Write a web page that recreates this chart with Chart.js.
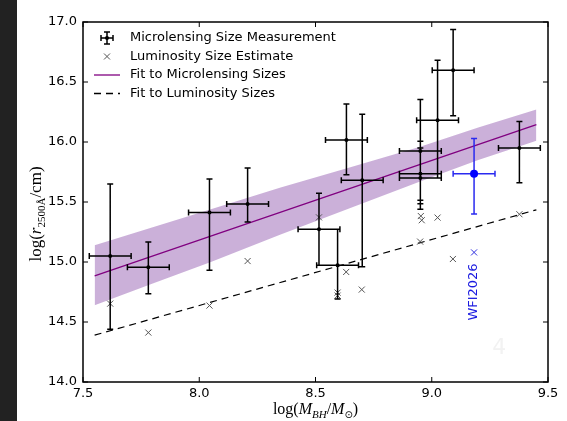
<!DOCTYPE html>
<html lang="en">
<head>
<meta charset="UTF-8">
<title>Quasar size vs black hole mass</title>
<script src="https://cdn.jsdelivr.net/npm/chart.js"></script>
<style>
  html, body { margin: 0; padding: 0; background: #fff; }
  #wrap { position: relative; width: 567px; height: 421px; overflow: hidden; }
  #strip { position: absolute; left: 0; top: 0; width: 17px; height: 421px; background: #222; }
  #chartBox { position: absolute; left: 0; top: 0; width: 567px; height: 421px; }
</style>
</head>
<body>
<div id="wrap">
  <div id="strip"></div>
  <div id="chartBox"><canvas id="sizeChart"></canvas></div>
</div>
<script>
// microlensing size measurements (log M_BH, log r, errors)
const lensMass    = [7.617, 7.781, 8.044, 8.208, 8.515, 8.595, 8.633, 8.701, 8.951, 8.951, 8.951, 9.025, 9.092, 9.377];
const lensSize    = [15.05, 14.956, 15.412, 15.483, 15.272, 14.972, 16.017, 15.681, 15.925, 15.736, 15.70, 16.181, 16.598, 15.951];
const lensErrUp   = [0.60, 0.21, 0.28, 0.30, 0.30, 0.30, 0.30, 0.55, 0.43, 0.27, 0.25, 0.50, 0.34, 0.22];
const lensErrDown = [0.61, 0.22, 0.48, 0.15, 0.30, 0.28, 0.29, 0.72, 0.41, 0.25, 0.26, 0.48, 0.38, 0.29];
const lensMassErr = [0.09, 0.09, 0.09, 0.09, 0.09, 0.09, 0.09, 0.09, 0.09, 0.09, 0.09, 0.09, 0.09, 0.09];

// WFI2026 measurement, shown in blue
const wfiMass = [9.182];
const wfiSize = [15.736];
const wfiErrUp = [0.294];
const wfiErrDown = [0.336];
const wfiMassErr = [0.09];
const wfiLumSize = [15.08];

// luminosity based size estimates
const lumMass = [7.617, 7.781, 8.044, 8.208, 8.515, 8.595, 8.595, 8.632, 8.699, 8.953, 8.957, 8.950, 9.025, 9.091, 9.377];
const lumSize = [14.653, 14.412, 14.637, 15.008, 15.372, 14.745, 14.72, 14.917, 14.77, 15.383, 15.348, 15.17, 15.37, 15.025, 15.398];

// fitted relations
const fitMass = [7.55, 9.45];
const fitMicro = [14.885, 16.145];
const fitLum = [14.39, 15.435];

// confidence band around the microlensing fit
const bandMass  = [7.55, 7.80, 8.05, 8.35, 8.65, 8.95, 9.20, 9.45];
const bandUpper = [15.14, 15.29, 15.44, 15.62, 15.79, 15.96, 16.12, 16.27];
const bandLower = [14.64, 14.82, 15.00, 15.23, 15.45, 15.67, 15.85, 16.01];

const xTicks = [7.5, 8.0, 8.5, 9.0, 9.5];
const yTicks = [14.0, 14.5, 15.0, 15.5, 16.0, 16.5, 17.0];

const legendLabels = ['Microlensing Size Measurement', 'Luminosity Size Estimate', 'Fit to Microlensing Sizes', 'Fit to Luminosity Sizes'];
const wfiLabel = { text: 'WFI2026', x: 9.18, y: 14.75 };
const cornerMark = { text: '4', x: 9.29, y: 14.28 };

const pts = (xs, ys) => xs.map((v, i) => ({ x: v, y: ys[i] }));

const SANS = "'DejaVu Sans', sans-serif";
const SERIF = "'Liberation Serif', 'DejaVu Serif', serif";
Chart.defaults.font.family = SANS;
Chart.defaults.color = '#000';

function line(ctx, x0, y0, x1, y1) {
  ctx.moveTo(x0, y0);
  ctx.lineTo(x1, y1);
}

// error bars drawn just under each dataset that carries them
const errorBars = {
  id: 'errorBars',
  beforeDatasetDraw(chart, args) {
    const ds = chart.data.datasets[args.index];
    if (!ds.errorBars) return;
    const { ctx, scales: { x, y } } = chart;
    const e = ds.errorBars;
    const cap = 3;
    ctx.save();
    ctx.strokeStyle = ds.barColor;
    ctx.lineWidth = 1.5;
    ctx.beginPath();
    ds.data.forEach((p, i) => {
      const px = x.getPixelForValue(p.x), py = y.getPixelForValue(p.y);
      const xl = x.getPixelForValue(p.x - e.xErr[i]), xr = x.getPixelForValue(p.x + e.xErr[i]);
      const yt = y.getPixelForValue(p.y + e.up[i]), yb = y.getPixelForValue(p.y - e.down[i]);
      line(ctx, xl, py, xr, py);
      line(ctx, px, yt, px, yb);
      line(ctx, xl, py - cap, xl, py + cap);
      line(ctx, xr, py - cap, xr, py + cap);
      line(ctx, px - cap, yt, px + cap, yt);
      line(ctx, px - cap, yb, px + cap, yb);
    });
    ctx.stroke();
    ctx.restore();
  }
};

// draws mixed roman/italic/subscript runs as one label, centred on (cx, baseline)
function drawRuns(ctx, runs, cx, baseline) {
  let total = 0;
  runs.forEach(r => { ctx.font = r.font; total += ctx.measureText(r.t).width; });
  let xp = cx - total / 2;
  ctx.textAlign = 'left';
  ctx.textBaseline = 'alphabetic';
  runs.forEach(r => {
    ctx.font = r.font;
    ctx.fillText(r.t, xp, baseline + (r.dy || 0));
    xp += ctx.measureText(r.t).width;
  });
}

// box frame, inward ticks, legend, axis titles and annotations
const decorations = {
  id: 'decorations',
  afterDraw(chart) {
    const { ctx, chartArea: a, scales: { x, y } } = chart;
    ctx.save();
    ctx.strokeStyle = '#000';
    ctx.lineWidth = 1;
    ctx.beginPath();
    xTicks.forEach(v => {
      const px = x.getPixelForValue(v);
      line(ctx, px, a.bottom, px, a.bottom - 5);
      line(ctx, px, a.top, px, a.top + 5);
    });
    yTicks.forEach(v => {
      const py = y.getPixelForValue(v);
      line(ctx, a.left, py, a.left + 5, py);
      line(ctx, a.right, py, a.right - 5, py);
    });
    ctx.stroke();
    ctx.lineWidth = 1.5;
    ctx.strokeRect(a.left, a.top, a.right - a.left, a.bottom - a.top);

    // legend
    const sx = a.left + 24, tx = a.left + 47;
    const rows = [16, 34.5, 53, 71.5].map(o => a.top + o);
    ctx.font = '13px ' + SANS;
    ctx.fillStyle = '#000';
    ctx.textAlign = 'left';
    ctx.textBaseline = 'middle';
    legendLabels.forEach((t, i) => ctx.fillText(t, tx, rows[i]));
    // errorbar symbol
    ctx.beginPath();
    ctx.lineWidth = 1.5;
    line(ctx, sx - 6, rows[0], sx + 6, rows[0]);
    line(ctx, sx, rows[0] - 6, sx, rows[0] + 6);
    line(ctx, sx - 6, rows[0] - 3, sx - 6, rows[0] + 3);
    line(ctx, sx + 6, rows[0] - 3, sx + 6, rows[0] + 3);
    line(ctx, sx - 3, rows[0] - 6, sx + 3, rows[0] - 6);
    line(ctx, sx - 3, rows[0] + 6, sx + 3, rows[0] + 6);
    ctx.stroke();
    ctx.beginPath();
    ctx.arc(sx, rows[0], 2, 0, Math.PI * 2);
    ctx.fill();
    // cross symbol
    ctx.beginPath();
    ctx.lineWidth = 1;
    ctx.strokeStyle = '#555';
    line(ctx, sx - 3, rows[1] - 3, sx + 3, rows[1] + 3);
    line(ctx, sx - 3, rows[1] + 3, sx + 3, rows[1] - 3);
    ctx.stroke();
    // fit lines
    ctx.beginPath();
    ctx.lineWidth = 1.3;
    ctx.strokeStyle = '#800080';
    line(ctx, sx - 13, rows[2], sx + 13, rows[2]);
    ctx.stroke();
    ctx.beginPath();
    ctx.strokeStyle = '#000';
    ctx.setLineDash([7, 5]);
    line(ctx, sx - 13, rows[3], sx + 13, rows[3]);
    ctx.stroke();
    ctx.setLineDash([]);

    // axis titles
    const xRuns = [
      { t: 'log(', font: '16px ' + SERIF },
      { t: 'M', font: 'italic 16px ' + SERIF },
      { t: 'BH', font: 'italic 11px ' + SERIF, dy: 4 },
      { t: '/', font: '16px ' + SERIF },
      { t: 'M', font: 'italic 16px ' + SERIF },
      { t: '\u2299', font: '10px ' + SANS, dy: 4 },
      { t: ')', font: '16px ' + SERIF }
    ];
    drawRuns(ctx, xRuns, (a.left + a.right) / 2, 414);

    const yRuns = [
      { t: 'log(', font: '17px ' + SERIF },
      { t: 'r', font: 'italic 17px ' + SERIF },
      { t: '2500\u00C5', font: '11px ' + SERIF, dy: 4 },
      { t: '/cm)', font: '17px ' + SERIF }
    ];
    ctx.save();
    ctx.translate(41, 214);
    ctx.rotate(-Math.PI / 2);
    drawRuns(ctx, yRuns, 0, 0);
    ctx.restore();

    // WFI2026 tag
    ctx.save();
    ctx.translate(x.getPixelForValue(wfiLabel.x), y.getPixelForValue(wfiLabel.y));
    ctx.rotate(-Math.PI / 2);
    ctx.font = '13px ' + SANS;
    ctx.fillStyle = '#1a1ae0';
    ctx.textAlign = 'center';
    ctx.textBaseline = 'middle';
    ctx.fillText(wfiLabel.text, 0, 0);
    ctx.restore();

    ctx.font = '22px ' + SANS;
    ctx.fillStyle = '#f2f2f2';
    ctx.textAlign = 'center';
    ctx.textBaseline = 'middle';
    ctx.fillText(cornerMark.text, x.getPixelForValue(cornerMark.x), y.getPixelForValue(cornerMark.y));
    ctx.restore();
  }
};

new Chart(document.getElementById('sizeChart'), {
  type: 'line',
  data: {
    datasets: [
      {
        label: 'band low',
        data: pts(bandMass, bandLower),
        borderWidth: 0,
        pointRadius: 0,
        fill: false,
        order: 10
      },
      {
        label: 'band high',
        data: pts(bandMass, bandUpper),
        borderWidth: 0,
        pointRadius: 0,
        fill: '-1',
        backgroundColor: 'rgba(140, 80, 170, 0.45)',
        order: 10
      },
      {
        label: legendLabels[2],
        data: pts(fitMass, fitMicro),
        borderColor: '#800080',
        borderWidth: 1.3,
        pointRadius: 0,
        order: 6
      },
      {
        label: legendLabels[3],
        data: pts(fitMass, fitLum),
        borderColor: '#000',
        borderWidth: 1.2,
        borderDash: [7, 5],
        pointRadius: 0,
        order: 6
      },
      {
        label: legendLabels[1],
        data: pts(lumMass, lumSize),
        showLine: false,
        pointStyle: 'crossRot',
        pointRadius: 4.3,
        pointBorderWidth: 1,
        pointBorderColor: '#555',
        order: 5
      },
      {
        label: 'WFI2026 luminosity',
        data: pts(wfiMass, wfiLumSize),
        showLine: false,
        pointStyle: 'crossRot',
        pointRadius: 4.3,
        pointBorderWidth: 1,
        pointBorderColor: '#3030e0',
        order: 5
      },
      {
        label: legendLabels[0],
        data: pts(lensMass, lensSize),
        showLine: false,
        pointRadius: 2,
        pointBorderWidth: 0,
        pointBackgroundColor: '#000',
        errorBars: { xErr: lensMassErr, up: lensErrUp, down: lensErrDown },
        barColor: '#000',
        order: 2
      },
      {
        label: 'WFI2026',
        data: pts(wfiMass, wfiSize),
        showLine: false,
        pointRadius: 4,
        pointBorderWidth: 0,
        pointBackgroundColor: '#0000ff',
        errorBars: { xErr: wfiMassErr, up: wfiErrUp, down: wfiErrDown },
        barColor: '#2a2af0',
        order: 1
      }
    ]
  },
  options: {
    responsive: true,
    maintainAspectRatio: false,
    animation: false,
    layout: { padding: { left: 0, top: 22, right: 19, bottom: 0 } },
    elements: { line: { tension: 0 } },
    plugins: { legend: { display: false }, tooltip: { enabled: false } },
    scales: {
      x: {
        type: 'linear',
        min: 7.5,
        max: 9.5,
        afterBuildTicks: s => { s.ticks = xTicks.map(v => ({ value: v })); },
        ticks: { callback: v => v.toFixed(1), font: { size: 13 }, padding: 4, maxRotation: 0 },
        grid: { display: false, drawTicks: false },
        border: { display: false },
        afterFit: s => { s.height = 39; }
      },
      y: {
        type: 'linear',
        min: 14,
        max: 17,
        afterBuildTicks: s => { s.ticks = yTicks.map(v => ({ value: v })); },
        ticks: { callback: v => v.toFixed(1), font: { size: 13 }, padding: 6 },
        grid: { display: false, drawTicks: false },
        border: { display: false },
        afterFit: s => { s.width = 83; }
      }
    }
  },
  plugins: [errorBars, decorations]
});
</script>
</body>
</html>
